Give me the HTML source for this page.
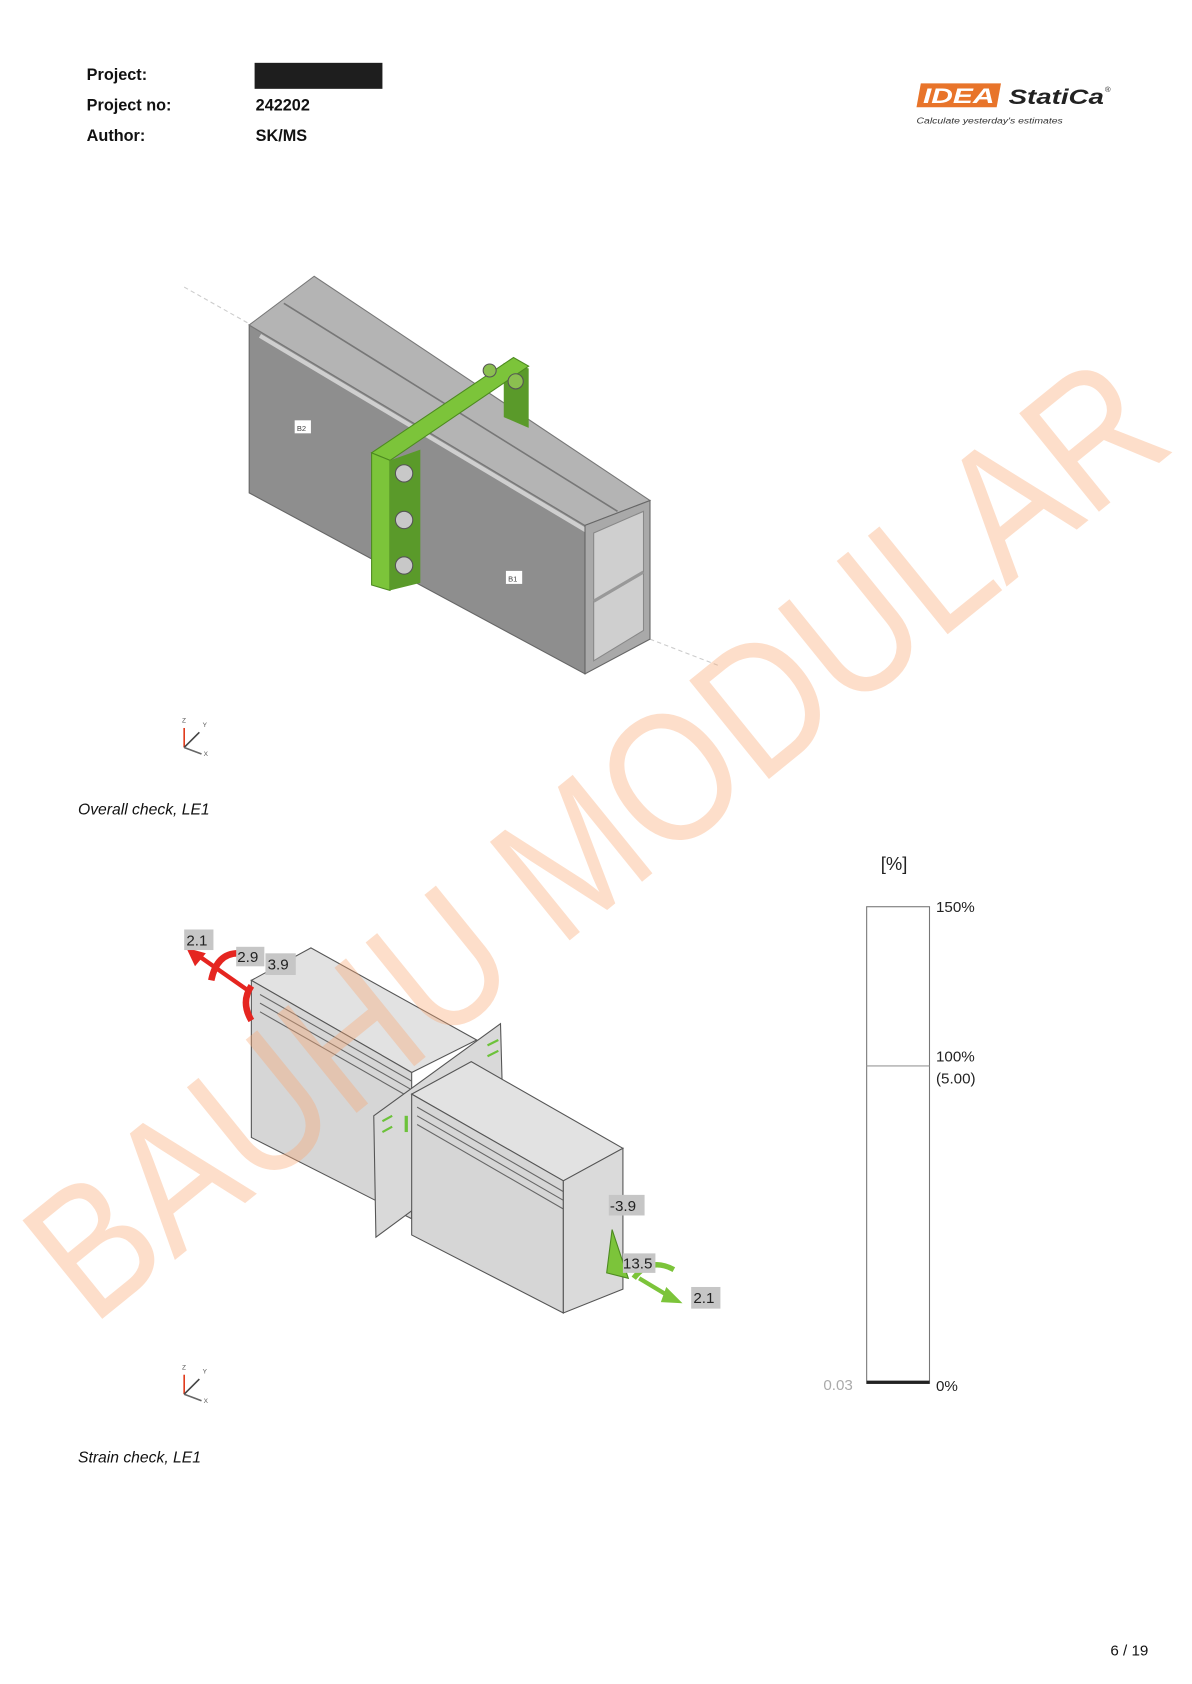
<!DOCTYPE html>
<html><head><meta charset="utf-8"><style>
html,body{margin:0;padding:0;background:#fff;}
body{width:1192px;height:1684px;overflow:hidden;}
svg{display:block}
</style></head><body>
<svg width="1192" height="1684" viewBox="0 0 1100.3 1554.5" xmlns="http://www.w3.org/2000/svg" font-family="Liberation Sans, Arial, sans-serif">
<!-- header -->
<g font-weight="bold" font-size="15" fill="#111">
<text x="80" y="74">Project:</text>
<text x="80" y="102">Project no:</text>
<text x="80" y="130">Author:</text>
<text x="236" y="102">242202</text>
<text x="236" y="130">SK/MS</text>
</g>
<rect x="235" y="58" width="118" height="24" fill="#1e1e1e"/>
<!-- logo -->
<g transform="translate(846,77)">
<polygon points="4,0 78,0 74,22 0,22" fill="#e8742a"/>
<text x="6" y="18" font-size="20" font-weight="bold" font-style="italic" fill="#fff" textLength="66" lengthAdjust="spacingAndGlyphs">IDEA</text>
<text x="85" y="19" font-size="20" font-weight="bold" font-style="italic" fill="#222" textLength="88" lengthAdjust="spacingAndGlyphs">StatiCa</text>
<text x="174" y="8" font-size="7" fill="#222">®</text>
<text x="0" y="37" font-size="7.5" font-style="italic" fill="#333" textLength="135" lengthAdjust="spacingAndGlyphs">Calculate yesterday's estimates</text>
</g>

<!-- beam 1 -->
<line x1="170" y1="265" x2="232" y2="300" stroke="#ccc" stroke-dasharray="4,3"/>
<line x1="600" y1="590" x2="665" y2="615" stroke="#ccc" stroke-dasharray="4,3"/>
<polygon points="230,300 540,485 540,622 230,455" fill="#8e8e8e" stroke="#666"/>
<polygon points="230,300 290,255 600,462 540,485" fill="#b4b4b4" stroke="#777"/>
<line x1="240" y1="310" x2="545" y2="492" stroke="#cfcfcf" stroke-width="4"/>
<line x1="262" y1="280" x2="570" y2="472" stroke="#777" stroke-width="1.5"/>
<polygon points="540,485 600,462 600,590 540,622" fill="#a9a9a9" stroke="#666"/>
<polygon points="548,492 594,472 594,582 548,610" fill="#cfcfcf" stroke="#888"/>
<line x1="548" y1="555" x2="594" y2="528" stroke="#999" stroke-width="3"/>
<rect x="272" y="388" width="15" height="12" fill="#fff"/><text x="274" y="398" font-size="7" fill="#444">B2</text>
<rect x="467" y="527" width="15" height="12" fill="#fff"/><text x="469" y="537" font-size="7" fill="#444">B1</text>
<!-- green plate -->
<polygon points="465,335 488,340 488,395 465,385" fill="#5a9a2a"/>
<polygon points="343,418 474,330 488,338 360,425" fill="#7cc43a" stroke="#4d8a20"/>
<polygon points="343,418 360,425 360,545 343,540" fill="#7cc43a" stroke="#4d8a20"/>
<polygon points="360,425 388,415 388,538 360,545" fill="#5a9a2a"/>
<g fill="#c8c8c8" stroke="#555">
<circle cx="373" cy="437" r="8"/><circle cx="373" cy="480" r="8"/><circle cx="373" cy="522" r="8"/>
<circle cx="476" cy="352" r="7" fill="#8bbf50"/><circle cx="452" cy="342" r="6" fill="#8bbf50"/>
</g>
<!-- axis icon 1 -->
<g stroke-width="1.5" fill="none">
<line x1="170" y1="690" x2="170" y2="672" stroke="#e03c1e"/>
<line x1="170" y1="690" x2="184" y2="676" stroke="#444"/>
<line x1="170" y1="690" x2="186" y2="696" stroke="#666"/>
</g>
<text x="168" y="667" font-size="6" fill="#555">Z</text><text x="187" y="671" font-size="6" fill="#555">Y</text><text x="188" y="698" font-size="6" fill="#555">X</text>
<text x="72" y="752" font-size="14.5" font-style="italic" fill="#111">Overall check, LE1</text>

<!-- beam 2 -->
<polygon points="232,905 287,875 440,960 380,990" fill="#e2e2e2" stroke="#555"/>
<polygon points="232,905 380,990 380,1125 232,1050" fill="#d6d6d6" stroke="#555"/>
<line x1="240" y1="918" x2="380" y2="998" stroke="#666"/><line x1="240" y1="926" x2="380" y2="1006" stroke="#666"/><line x1="240" y1="934" x2="380" y2="1014" stroke="#666"/>
<polygon points="345,1030 462,945 465,1055 347,1142" fill="#d9d9d9" stroke="#555"/>
<polygon points="380,1010 435,980 575,1060 520,1090" fill="#e2e2e2" stroke="#555"/>
<polygon points="380,1010 520,1090 520,1212 380,1140" fill="#d6d6d6" stroke="#555"/>
<line x1="385" y1="1022" x2="520" y2="1100" stroke="#666"/><line x1="385" y1="1030" x2="520" y2="1108" stroke="#666"/><line x1="385" y1="1038" x2="520" y2="1116" stroke="#666"/>
<polygon points="520,1090 575,1060 575,1190 520,1212" fill="#dadada" stroke="#555"/>
<line x1="375" y1="1030" x2="375" y2="1045" stroke="#6cc23a" stroke-width="3"/>
<g stroke="#6cc23a" stroke-width="2"><line x1="353" y1="1035" x2="362" y2="1030"/><line x1="353" y1="1045" x2="362" y2="1040"/><line x1="450" y1="965" x2="460" y2="960"/><line x1="450" y1="975" x2="460" y2="970"/></g>
<!-- red arrows -->
<line x1="180" y1="880" x2="230" y2="915" stroke="#e52520" stroke-width="4"/>
<polygon points="172,875 190,880 180,892" fill="#e52520"/>
<path d="M195,905 Q200,880 220,880" stroke="#e52520" stroke-width="6" fill="none"/>
<path d="M232,910 Q222,925 232,942" stroke="#e52520" stroke-width="6" fill="none"/>
<!-- green arrows -->
<path d="M565,1135 L560,1175 L580,1180 Z" fill="#7cc43a" stroke="#4d8a20"/>
<path d="M585,1180 Q600,1160 622,1172" stroke="#7cc43a" stroke-width="5" fill="none"/>
<line x1="590" y1="1180" x2="620" y2="1198" stroke="#7cc43a" stroke-width="4"/>
<polygon points="615,1188 630,1203 610,1202" fill="#7cc43a"/>
<g font-size="14" fill="#222">
<rect x="170" y="858" width="27" height="19" fill="#c6c6c6"/><text x="172" y="873">2.1</text>
<rect x="218" y="874" width="26" height="18" fill="#c6c6c6"/><text x="219" y="888">2.9</text>
<rect x="245" y="880" width="28" height="20" fill="#c6c6c6"/><text x="247" y="895">3.9</text>
<rect x="562" y="1103" width="33" height="19" fill="#c6c6c6"/><text x="563" y="1118">-3.9</text>
<rect x="575" y="1157" width="30" height="18" fill="#c6c6c6"/><text x="575" y="1171">13.5</text>
<rect x="638" y="1188" width="27" height="20" fill="#c6c6c6"/><text x="640" y="1203">2.1</text>
</g>
<!-- axis icon 2 -->
<g stroke-width="1.5" fill="none">
<line x1="170" y1="1287" x2="170" y2="1269" stroke="#e03c1e"/>
<line x1="170" y1="1287" x2="184" y2="1273" stroke="#444"/>
<line x1="170" y1="1287" x2="186" y2="1293" stroke="#666"/>
</g>
<text x="168" y="1264" font-size="6" fill="#555">Z</text><text x="187" y="1268" font-size="6" fill="#555">Y</text><text x="188" y="1295" font-size="6" fill="#555">X</text>
<text x="72" y="1350" font-size="14.5" font-style="italic" fill="#111">Strain check, LE1</text>

<!-- scale -->
<text x="813" y="803" font-size="17" fill="#222">[%]</text>
<rect x="800" y="837" width="58" height="440" fill="#fff" stroke="#777" stroke-width="1"/>
<line x1="800" y1="984" x2="858" y2="984" stroke="#999"/>
<line x1="800" y1="1276" x2="858" y2="1276" stroke="#222" stroke-width="3"/>
<g font-size="14" fill="#222">
<text x="864" y="842">150%</text>
<text x="864" y="980">100%</text>
<text x="864" y="1000">(5.00)</text>
<text x="864" y="1284">0%</text>
</g>
<text x="760" y="1283" font-size="14" fill="#aaa">0.03</text>
<text x="1025" y="1528" font-size="14" fill="#111">6 / 19</text>

<!-- watermark -->
<text transform="translate(85,1225) rotate(-39)" x="0" y="0" font-size="170" fill="#f9a874" fill-opacity="0.38" textLength="1290" lengthAdjust="spacingAndGlyphs">BAUHU MODULAR</text>
</svg>
</body></html>
